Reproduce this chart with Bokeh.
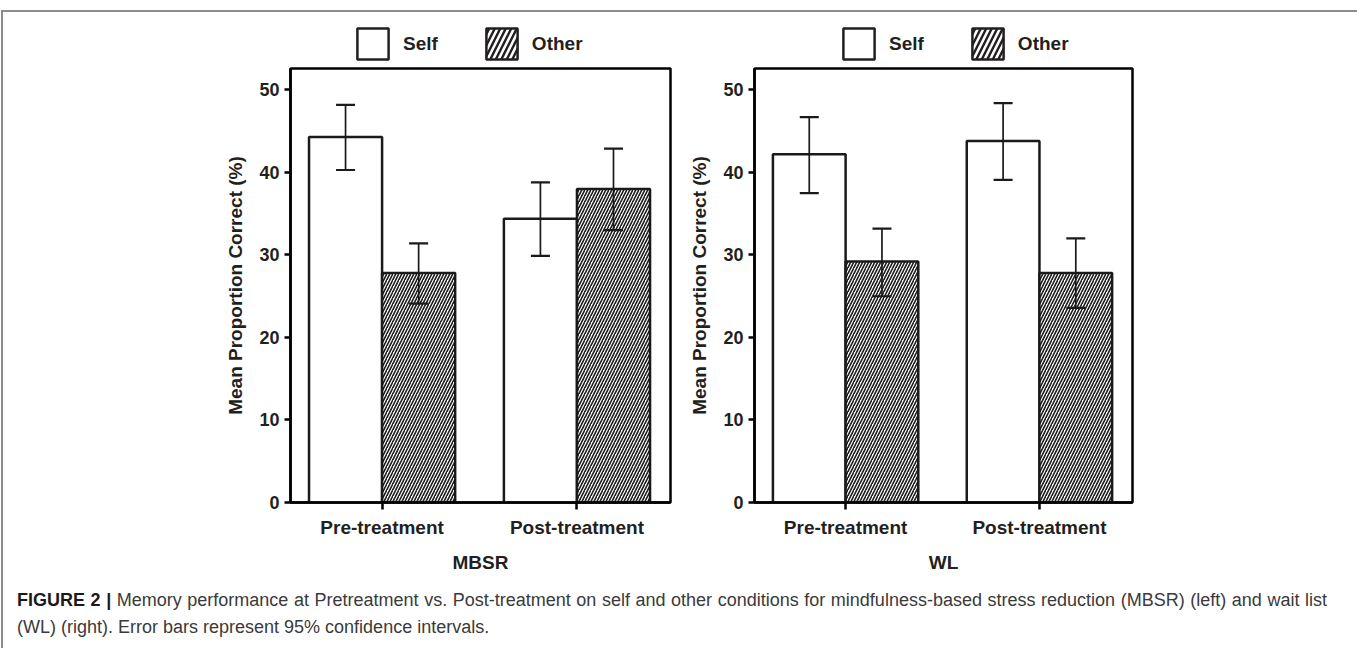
from bokeh.plotting import figure
from bokeh.models import (ColumnDataSource, Whisker, TeeHead, FixedTicker, Legend,
                          LegendItem, Div, Range1d)
from bokeh.layouts import row, column
from bokeh.embed import file_html
from bokeh.resources import INLINE
import numpy as np

# ---------------- data ----------------
categories = ["Pre-treatment", "Post-treatment"]
series_names = ["Self", "Other"]
y_ticks = [0, 10, 20, 30, 40, 50]
y_label = "Mean Proportion Correct (%)"

mbsr_self = [44.3, 34.4]
mbsr_self_lo = [40.3, 29.9]
mbsr_self_hi = [48.2, 38.8]
mbsr_other = [27.8, 38.0]
mbsr_other_lo = [24.1, 33.0]
mbsr_other_hi = [31.4, 42.9]

wl_self = [42.2, 43.8]
wl_self_lo = [37.5, 39.1]
wl_self_hi = [46.7, 48.4]
wl_other = [29.2, 27.8]
wl_other_lo = [25.0, 23.6]
wl_other_hi = [33.2, 32.0]

caption_head = "FIGURE 2 |"
caption_line1 = ("Memory performance at Pretreatment vs. Post-treatment on self and other "
                 "conditions for mindfulness-based stress reduction (MBSR) (left) and wait list")
caption_line2 = "(WL) (right). Error bars represent 95% confidence intervals."

# ---------------- styling ----------------
FONT = "Liberation Sans"
TXT = "#231f20"
INK = "#1a1a1a"
BAR_W = 0.375
FRAME_W = 380
FRAME_H = 434
LEG_H = 52
TOP = 4
BOTTOM = 80


def make_panel(group, s_vals, s_lo, s_hi, o_vals, o_lo, o_hi, mb_left, mb_right, leg_x):
    width = mb_left + FRAME_W + mb_right
    p = figure(width=width, height=TOP + FRAME_H + BOTTOM,
               x_range=Range1d(-0.47, 1.48), y_range=Range1d(0, 52.6),
               output_backend="svg", toolbar_location=None,
               min_border_left=mb_left, min_border_right=mb_right,
               min_border_top=TOP, min_border_bottom=BOTTOM)
    p.background_fill_color = "white"
    p.border_fill_color = "white"
    p.outline_line_color = "black"
    p.outline_line_width = 2.5
    p.xgrid.visible = False
    p.ygrid.visible = False

    idx = np.arange(len(categories))
    src_s = ColumnDataSource(dict(x=idx - BAR_W / 2, top=s_vals, lo=s_lo, hi=s_hi))
    src_o = ColumnDataSource(dict(x=idx + BAR_W / 2, top=o_vals, lo=o_lo, hi=o_hi))

    p.vbar(x="x", top="top", bottom=0, width=BAR_W, source=src_s,
           fill_color="white", line_color=INK, line_width=2.5)
    p.vbar(x="x", top="top", bottom=0, width=BAR_W, source=src_o,
           fill_color="white", line_color=INK, line_width=2.5,
           hatch_pattern="/", hatch_color=INK, hatch_scale=6, hatch_weight=1.6)

    for src in (src_s, src_o):
        w = Whisker(source=src, base="x", upper="hi", lower="lo", level="overlay",
                    line_color=INK, line_width=1.7,
                    upper_head=TeeHead(size=19, line_width=2.2, line_color=INK),
                    lower_head=TeeHead(size=19, line_width=2.2, line_color=INK))
        p.add_layout(w)

    # axes
    p.yaxis.ticker = FixedTicker(ticks=y_ticks)
    p.yaxis.axis_label = y_label
    p.xaxis.ticker = FixedTicker(ticks=list(idx))
    p.xaxis.major_label_overrides = {int(i): c for i, c in zip(idx, categories)}
    p.xaxis.axis_label = group
    for ax in (p.xaxis, p.yaxis):
        ax.axis_line_color = "black"
        ax.axis_line_width = 2.5
        ax.major_tick_line_color = "black"
        ax.major_tick_line_width = 2.5
        ax.major_tick_in = 0
        ax.minor_tick_line_color = None
        ax.major_label_text_font = FONT
        ax.major_label_text_font_style = "bold"
        ax.major_label_text_color = TXT
        ax.axis_label_text_font = FONT
        ax.axis_label_text_font_style = "bold"
        ax.axis_label_text_color = TXT
    p.yaxis.major_tick_out = 6
    p.yaxis.major_label_text_font_size = "18px"
    p.yaxis.major_label_standoff = 5
    p.yaxis.axis_label_text_font_size = "19px"
    p.yaxis.axis_label_standoff = 10
    p.xaxis.major_tick_out = 7
    p.xaxis.major_label_text_font_size = "19px"
    p.xaxis.major_label_standoff = 7
    p.xaxis.axis_label_text_font_size = "19px"
    p.xaxis.axis_label_standoff = 11

    # key strip above the panel (legend proxies use the same data, hidden)
    lg = figure(width=width, height=LEG_H, x_range=Range1d(-0.47, 1.48),
                y_range=Range1d(0, 52.6), output_backend="svg", toolbar_location=None,
                x_axis_type=None, y_axis_type=None,
                min_border_left=0, min_border_right=0, min_border_top=0,
                min_border_bottom=0)
    lg.outline_line_color = None
    lg.xgrid.visible = False
    lg.ygrid.visible = False
    lg.border_fill_color = "white"
    k_self = lg.vbar(x="x", top="top", width=BAR_W, source=src_s, visible=False,
                     fill_color="white", line_color=TXT, line_width=2.5)
    k_other = lg.vbar(x="x", top="top", width=BAR_W, source=src_o, visible=False,
                      fill_color="white", line_color=TXT, line_width=2.5,
                      hatch_pattern="/", hatch_color=TXT, hatch_scale=11, hatch_weight=2.4)
    legend = Legend(items=[LegendItem(label=series_names[0], renderers=[k_self]),
                           LegendItem(label=series_names[1], renderers=[k_other])],
                    orientation="horizontal", location=(leg_x, 1),
                    glyph_width=39, glyph_height=39, label_standoff=11, spacing=44,
                    padding=0, margin=0, border_line_color=None,
                    background_fill_alpha=0, inactive_fill_alpha=0,
                    label_text_font=FONT, label_text_font_style="bold",
                    label_text_font_size="19px", label_text_color=TXT)
    lg.add_layout(legend)
    return column(lg, p)


p1 = make_panel("MBSR", mbsr_self, mbsr_self_lo, mbsr_self_hi,
                mbsr_other, mbsr_other_lo, mbsr_other_hi,
                mb_left=287, mb_right=16, leg_x=63)
p2 = make_panel("WL", wl_self, wl_self_lo, wl_self_hi,
                wl_other, wl_other_lo, wl_other_hi,
                mb_left=66, mb_right=222, leg_x=85)

cap = Div(text=(f'<div style="width:1310px;text-align:justify;text-align-last:justify;'
                f'white-space:nowrap">'
                f'<span style="font-weight:bold;color:#1a1a1a">{caption_head}</span> '
                f'{caption_line1}</div><div>{caption_line2}</div>'),
          width=1345, height=56,
          styles={"font-family": "Liberation Sans, Arial, sans-serif",
                  "font-size": "18px", "line-height": "27px", "color": "#3a3a3a",
                  "padding-left": "9px"})

layout = column(row(p1, p2), cap,
                styles={"border-left": "2px solid #8c8c8c",
                        "border-right": "2px solid #8c8c8c",
                        "border-top": "2px solid #8c8c8c",
                        "margin-left": "1px", "margin-top": "10px",
                        "background-color": "white"})

open("out.html", "w").write(file_html(layout, INLINE))
